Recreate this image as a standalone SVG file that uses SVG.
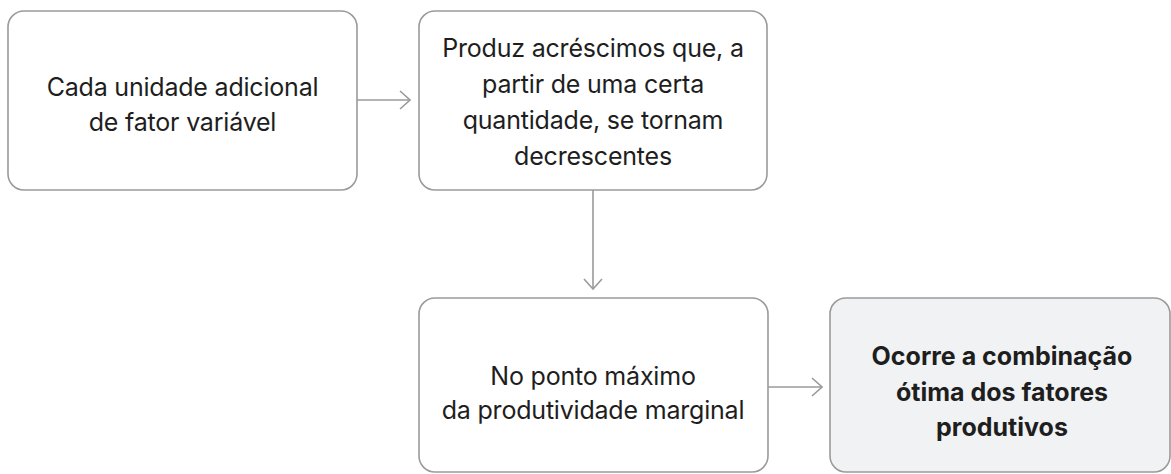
<svg xmlns="http://www.w3.org/2000/svg" width="1171" height="474" viewBox="0 0 1171 474">
<defs>
<style>
.box{fill:#ffffff;stroke:#9a9a9a;stroke-width:1.6}
.hl{fill:#f1f2f4}
.t{font-family:Inter,"Liberation Sans",sans-serif;font-size:25px;fill:#1e1e1e;text-anchor:middle;letter-spacing:-0.2px}
.b{font-weight:700;letter-spacing:0}
.c{stroke:#9a9a9a;stroke-width:1.6;fill:none}
</style>
<marker id="arr" viewBox="0 0 12 20" refX="11" refY="10" markerWidth="12" markerHeight="20" markerUnits="userSpaceOnUse" orient="auto">
<path d="M1,1 L11,10 L1,19" fill="none" stroke="#9a9a9a" stroke-width="1.6"/>
</marker>
</defs>
<g id="connectors">
<line class="c" x1="357" y1="100" x2="410" y2="100" marker-end="url(#arr)"/>
<line class="c" x1="593" y1="190" x2="593" y2="289" marker-end="url(#arr)"/>
<line class="c" x1="768" y1="387" x2="822" y2="387" marker-end="url(#arr)"/>
</g>
<g id="n1">
<rect class="box" x="8" y="11" width="349" height="179" rx="16"/>
<text class="t" x="182.5" y="96">Cada unidade adicional</text>
<text class="t" x="182.5" y="131">de fator variável</text>
</g>
<g id="n2">
<rect class="box" x="419" y="11" width="348" height="179" rx="16"/>
<text class="t" x="593" y="57">Produz acréscimos que, a</text>
<text class="t" x="593" y="93">partir de uma certa</text>
<text class="t" x="593" y="129">quantidade, se tornam</text>
<text class="t" x="593" y="165">decrescentes</text>
</g>
<g id="n3">
<rect class="box" x="419" y="298" width="349" height="174" rx="16"/>
<text class="t" x="593" y="385">No ponto máximo</text>
<text class="t" x="593" y="419">da produtividade marginal</text>
</g>
<g id="n4">
<rect class="box hl" x="830" y="298" width="340" height="174" rx="16"/>
<text class="t b" x="1002" y="365">Ocorre a combinação</text>
<text class="t b" x="1002" y="401">ótima dos fatores</text>
<text class="t b" x="1002" y="436">produtivos</text>
</g>
</svg>
